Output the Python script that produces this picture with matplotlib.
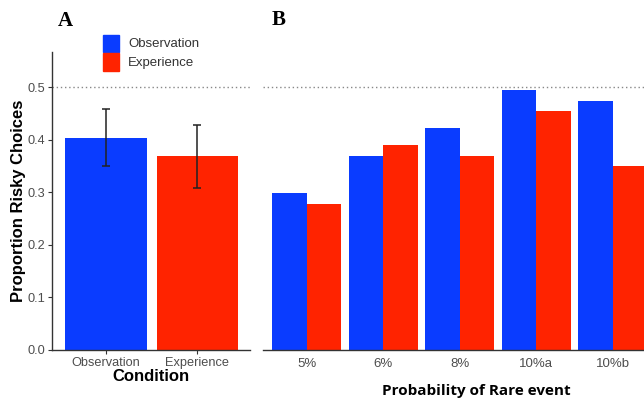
import matplotlib.pyplot as plt
import numpy as np

# data
conditions = ['Observation', 'Experience']
cond_means = [0.403, 0.369]
cond_err_lo = [0.350, 0.308]
cond_err_hi = [0.458, 0.428]

probs = ['5%', '6%', '8%', '10%a', '10%b']
obs_vals = [0.298, 0.370, 0.422, 0.494, 0.474]
exp_vals = [0.277, 0.390, 0.370, 0.454, 0.350]

BLUE = '#0A3CFF'
RED = '#FF2300'
TICK = '#4d4d4d'
W, H = 644, 401

fig = plt.figure(figsize=(6.44, 4.01), dpi=100)
plt.rcParams['font.family'] = ['Liberation Sans', 'DejaVu Sans']


def px_axes(x0, y0, x1, y1):
    return fig.add_axes([x0 / W, 1 - y1 / H, (x1 - x0) / W, (y1 - y0) / H])


# panel A
axA = px_axes(52, 52, 250, 350)
xa = np.arange(len(conditions))
axA.bar(xa, cond_means, width=0.89, color=[BLUE, RED], edgecolor='none')
yerr = [np.array(cond_means) - np.array(cond_err_lo), np.array(cond_err_hi) - np.array(cond_means)]
axA.errorbar(xa, cond_means, yerr=yerr, fmt='none', ecolor='#222222', elinewidth=1.1, capsize=3, capthick=1.1)
axA.axhline(0.5, color='#888888', linestyle=(0, (1, 2)), linewidth=1)
axA.set_xlim(-0.593, 1.58)
axA.set_ylim(0, 0.567)
axA.set_xticks(xa)
axA.set_xticklabels(conditions)
axA.set_yticks([0.0, 0.1, 0.2, 0.3, 0.4, 0.5])
axA.set_yticklabels(['0.0', '0.1', '0.2', '0.3', '0.4', '0.5'])
axA.tick_params(colors='#333333', labelcolor=TICK, labelsize=9.2, length=3, width=0.8, pad=2)
for s in ['top', 'right']:
    axA.spines[s].set_visible(False)
for s in ['left', 'bottom']:
    axA.spines[s].set_color('#333333')
    axA.spines[s].set_linewidth(1.0)
axA.set_xlabel('Condition', fontsize=12, fontweight='bold', labelpad=0)
axA.set_ylabel('Proportion Risky Choices', fontsize=12, fontweight='bold', labelpad=1)

# panel B
axB = px_axes(263, 52, 644, 350)
xb = np.arange(len(probs))
bw = 0.45
axB.bar(xb - bw / 2, obs_vals, width=bw, color=BLUE, edgecolor='none')
axB.bar(xb + bw / 2, exp_vals, width=bw, color=RED, edgecolor='none')
axB.axhline(0.5, color='#888888', linestyle=(0, (1, 2)), linewidth=1)
axB.set_xlim(-0.57, 4.41)
axB.set_ylim(0, 0.567)
axB.set_xticks(xb)
axB.set_xticklabels(probs)
axB.set_yticks([])
axB.tick_params(axis='x', colors='#333333', labelcolor=TICK, labelsize=9.5, length=0, pad=6)
for s in ['top', 'right', 'left']:
    axB.spines[s].set_visible(False)
axB.spines['bottom'].set_color('#333333')
axB.spines['bottom'].set_linewidth(1.0)
fig.text(476 / W, 1 - 391 / H, 'Probability of Rare event', fontsize=11, fontweight='bold',
         family=['Open Sans', 'DejaVu Sans'], ha='center', va='center')

# legend
fig.patches.append(plt.Rectangle((103 / W, 1 - 52 / H), 16 / W, 17 / H, color=BLUE,
                                 transform=fig.transFigure, figure=fig))
fig.patches.append(plt.Rectangle((103 / W, 1 - 71 / H), 16 / W, 18 / H, color=RED,
                                 transform=fig.transFigure, figure=fig))
fig.text(128 / W, 1 - 44 / H, 'Observation', fontsize=9.5, color='#333333', va='center')
fig.text(128 / W, 1 - 63 / H, 'Experience', fontsize=9.5, color='#333333', va='center')

# panel letters
fig.text(65 / W, 1 - 21 / H, 'A', fontsize=15, fontweight='bold', family='Liberation Serif',
         ha='center', va='center')
fig.text(279 / W, 1 - 20 / H, 'B', fontsize=15, fontweight='bold', family='Liberation Serif',
         ha='center', va='center')

fig.savefig('out.png', dpi=100)
